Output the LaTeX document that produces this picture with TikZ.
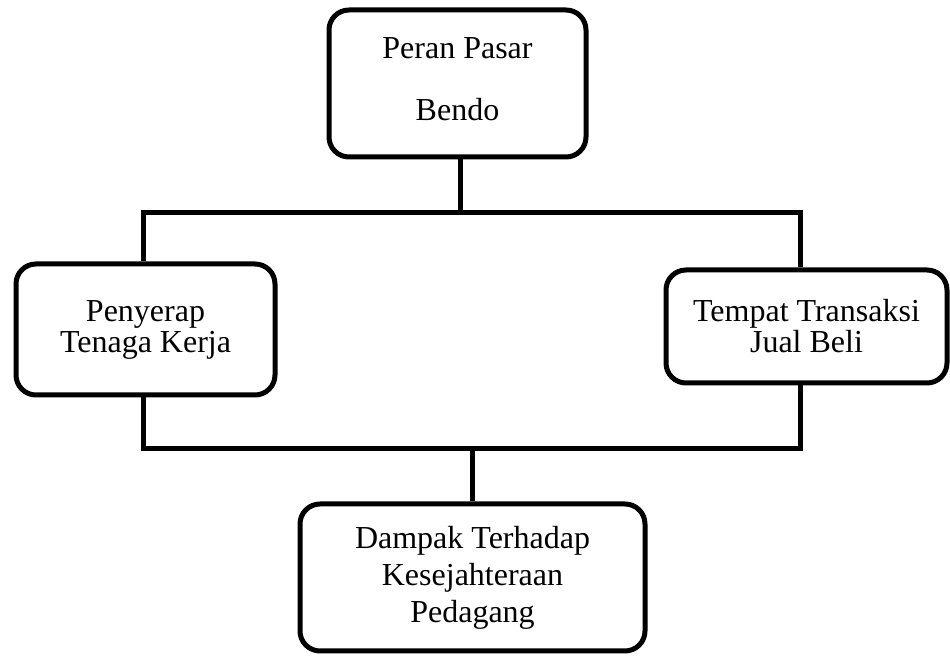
\documentclass[tikz,border=0pt]{standalone}
\usepackage{fontspec}
\setmainfont{Liberation Serif}
\usepackage{tikz}
\usetikzlibrary{positioning}

\begin{document}
\begin{tikzpicture}[x=0.5pt,y=-0.5pt,line width=2.5pt,
kotak/.style={draw,rounded corners=10pt,align=center,inner sep=0pt,
font=\fontsize{16}{15.5}\selectfont}]
\useasboundingbox (0,0) rectangle (950,656);
\node[kotak,minimum width=128.5pt,minimum height=73.5pt,text depth=4pt] (pasar) at (457.5,83.5)
{Peran Pasar\\[15.5pt]Bendo};
\node[kotak,minimum width=129.5pt,minimum height=65.5pt] (serap) at (145.5,329.5)
{Penyerap\\Tenaga Kerja};
\node[kotak,minimum width=140.5pt,minimum height=56.5pt] (transaksi) at (806.5,326.5)
{Tempat Transaksi\\Jual Beli};
\node[kotak,minimum width=172.5pt,minimum height=73.5pt,
font=\fontsize{16}{18.5}\selectfont] (dampak) at (472.5,577.5)
{Dampak Terhadap\\Kesejahteraan\\Pedagang};
\coordinate (kiriatas) at (143,213);
\coordinate (kananatas) at (800,213);
\coordinate (kiribawah) at (143,449);
\coordinate (kananbawah) at (800,449);
% garis cabang
\draw(460,0 |- pasar.south)--(460,0 |- kiriatas);
\draw(kiriatas |- serap.north)--(kiriatas)--(kananatas)--(kananatas |- transaksi.north);
\draw(kiribawah |- serap.south)--(kiribawah)--(kananbawah)--(kananbawah |- transaksi.south);
\draw(dampak.north)--(dampak |- kiribawah);
\end{tikzpicture}
\end{document}
